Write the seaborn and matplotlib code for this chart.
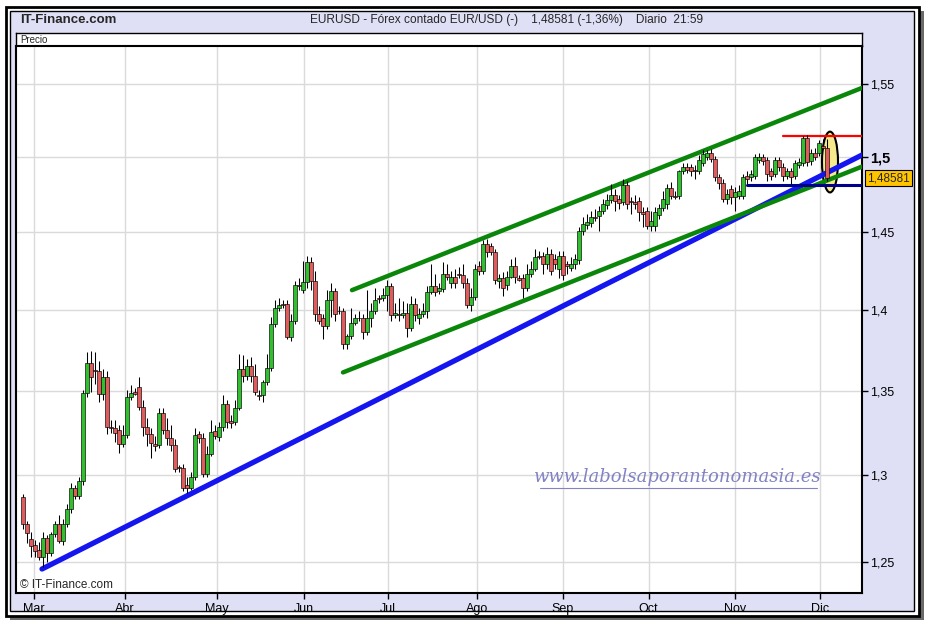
"""EURUSD daily candlestick chart, IT-Finance style, with trend channel lines."""

import matplotlib

matplotlib.use("Agg")
import matplotlib.pyplot as plt
import matplotlib.transforms as mtransforms
import numpy as np
import pandas as pd
import seaborn as sns
from matplotlib.patches import Ellipse, Rectangle
from matplotlib.ticker import FixedLocator, NullLocator

# --- daily candles (trading-day index 0..201) ---
OPEN = [
    1.2869, 1.2717, 1.2628, 1.2594, 1.2566, 1.2526, 1.2633, 1.2549, 1.2656, 1.2717,
    1.2616, 1.2717, 1.2802, 1.2920, 1.2875, 1.2965, 1.3488, 1.3670, 1.3626, 1.3620,
    1.3482, 1.3582, 1.3280, 1.3274, 1.3267, 1.3182, 1.3237, 1.3463, 1.3494, 1.3525,
    1.3402, 1.3280, 1.3243, 1.3182, 1.3176, 1.3365, 1.3267, 1.3218, 1.3176, 1.3047,
    1.3041, 1.2937, 1.2920, 1.2987, 1.3243, 1.3218, 1.3004, 1.3121, 1.3261, 1.3225,
    1.3280, 1.3420, 1.3316, 1.3310, 1.3396, 1.3632, 1.3594, 1.3651, 1.3588, 1.3476,
    1.3476, 1.3556, 1.3638, 1.3916, 1.4011, 1.4037, 1.4037, 1.3834, 1.3935, 1.4157,
    1.4126, 1.4176, 1.4310, 1.4183, 1.3973, 1.3948, 1.3903, 1.4062, 1.4119, 1.3998,
    1.3992, 1.3790, 1.3840, 1.3922, 1.3954, 1.3954, 1.3866, 1.3948, 1.3998, 1.4075,
    1.4075, 1.4094, 1.4151, 1.3967, 1.3979, 1.3967, 1.3985, 1.3891, 1.4037, 1.3954,
    1.3973, 1.3992, 1.4113, 1.4151, 1.4119, 1.4132, 1.4233, 1.4170, 1.4214, 1.4233,
    1.4227, 1.4170, 1.4030, 1.4081, 1.4284, 1.4252, 1.4424, 1.4411, 1.4373, 1.4183,
    1.4202, 1.4157, 1.4214, 1.4284, 1.4202, 1.4202, 1.4138, 1.4233, 1.4265, 1.4348,
    1.4348, 1.4297, 1.4360, 1.4329, 1.4265, 1.4348, 1.4297, 1.4271, 1.4297, 1.4322,
    1.4507, 1.4546, 1.4559, 1.4599, 1.4606, 1.4639, 1.4678, 1.4711, 1.4744, 1.4718,
    1.4698, 1.4810, 1.4705, 1.4698, 1.4705, 1.4632, 1.4639, 1.4540, 1.4540, 1.4612,
    1.4658, 1.4685, 1.4790, 1.4738, 1.4738, 1.4903, 1.4936, 1.4936, 1.4916, 1.4903,
    1.4962, 1.5002, 1.5029, 1.4989, 1.4863, 1.4824, 1.4718, 1.4784, 1.4731, 1.4738,
    1.4738, 1.4876, 1.4863, 1.4870, 1.4982, 1.5002, 1.4982, 1.4903, 1.4883, 1.4982,
    1.4936, 1.4870, 1.4903, 1.4876, 1.4949, 1.4962, 1.5132, 1.4976, 1.5029, 1.5029,
    1.5077, 1.5063,
]
HIGH = [
    1.2886, 1.2734, 1.2667, 1.2622, 1.2611, 1.2667, 1.2650, 1.2667, 1.2734, 1.2768,
    1.2745, 1.2830, 1.2953, 1.2942, 1.2987, 1.3506, 1.3739, 1.3746, 1.3739, 1.3682,
    1.3632, 1.3620, 1.3323, 1.3323, 1.3292, 1.3292, 1.3506, 1.3538, 1.3519, 1.3582,
    1.3445, 1.3335, 1.3274, 1.3231, 1.3396, 1.3396, 1.3335, 1.3292, 1.3212, 1.3059,
    1.3065, 1.2987, 1.3017, 1.3274, 1.3261, 1.3249, 1.3170, 1.3323, 1.3292, 1.3310,
    1.3476, 1.3445, 1.3353, 1.3445, 1.3727, 1.3720, 1.3695, 1.3708, 1.3664, 1.3506,
    1.3569, 1.3727, 1.3960, 1.4062, 1.4075, 1.4062, 1.4062, 1.3979, 1.4183, 1.4202,
    1.4316, 1.4348, 1.4341, 1.4252, 1.4024, 1.3979, 1.4126, 1.4170, 1.4138, 1.4024,
    1.4011, 1.3853, 1.4011, 1.3979, 1.3998, 1.3979, 1.4126, 1.4043, 1.4138, 1.4094,
    1.4138, 1.4189, 1.4170, 1.4043, 1.4075, 1.4056, 1.4043, 1.4088, 1.4075, 1.4011,
    1.4043, 1.4151, 1.4297, 1.4233, 1.4170, 1.4310, 1.4297, 1.4252, 1.4265, 1.4278,
    1.4297, 1.4202, 1.4138, 1.4297, 1.4316, 1.4449, 1.4456, 1.4430, 1.4392, 1.4233,
    1.4240, 1.4252, 1.4329, 1.4341, 1.4227, 1.4233, 1.4297, 1.4316, 1.4392, 1.4379,
    1.4373, 1.4405, 1.4392, 1.4360, 1.4379, 1.4379, 1.4316, 1.4341, 1.4360, 1.4533,
    1.4599, 1.4619, 1.4639, 1.4652, 1.4671, 1.4718, 1.4751, 1.4817, 1.4784, 1.4744,
    1.4850, 1.4837, 1.4731, 1.4744, 1.4731, 1.4665, 1.4665, 1.4639, 1.4665, 1.4685,
    1.4771, 1.4817, 1.4830, 1.4771, 1.4916, 1.4962, 1.4962, 1.4956, 1.4949, 1.5016,
    1.5050, 1.5050, 1.5057, 1.5009, 1.4883, 1.4850, 1.4784, 1.4810, 1.4797, 1.4810,
    1.4883, 1.4903, 1.4916, 1.5023, 1.5029, 1.5023, 1.5002, 1.4929, 1.5002, 1.5002,
    1.4962, 1.4929, 1.4929, 1.4982, 1.4995, 1.5146, 1.5153, 1.5057, 1.5064, 1.5119,
    1.5125, 1.5125,
]
LOW = [
    1.2684, 1.2605, 1.2526, 1.2526, 1.2509, 1.2471, 1.2498, 1.2532, 1.2639, 1.2605,
    1.2594, 1.2695, 1.2779, 1.2858, 1.2858, 1.2942, 1.3463, 1.3494, 1.3544, 1.3433,
    1.3445, 1.3243, 1.3249, 1.3194, 1.3127, 1.3163, 1.3218, 1.3445, 1.3476, 1.3384,
    1.3231, 1.3170, 1.3096, 1.3139, 1.3157, 1.3243, 1.3176, 1.3139, 1.3017, 1.3017,
    1.2903, 1.2892, 1.2908, 1.2970, 1.3188, 1.2987, 1.2987, 1.3108, 1.3212, 1.3200,
    1.3261, 1.3274, 1.3274, 1.3292, 1.3384, 1.3556, 1.3569, 1.3556, 1.3476, 1.3445,
    1.3433, 1.3538, 1.3620, 1.3897, 1.3992, 1.4011, 1.3821, 1.3809, 1.3916, 1.4126,
    1.4107, 1.4138, 1.4126, 1.3935, 1.3916, 1.3821, 1.3885, 1.3960, 1.3935, 1.3973,
    1.3758, 1.3758, 1.3821, 1.3910, 1.3935, 1.3821, 1.3847, 1.3897, 1.3979, 1.4043,
    1.4056, 1.3998, 1.3935, 1.3948, 1.3935, 1.3948, 1.3834, 1.3872, 1.3935, 1.3916,
    1.3960, 1.3948, 1.4100, 1.4088, 1.4100, 1.4113, 1.4189, 1.4138, 1.4138, 1.4202,
    1.4138, 1.4011, 1.3998, 1.4062, 1.4227, 1.4233, 1.4341, 1.4354, 1.4164, 1.4138,
    1.4088, 1.4126, 1.4202, 1.4170, 1.4183, 1.4075, 1.4119, 1.4214, 1.4252, 1.4329,
    1.4233, 1.4265, 1.4227, 1.4265, 1.4202, 1.4189, 1.4233, 1.4252, 1.4265, 1.4297,
    1.4481, 1.4520, 1.4533, 1.4573, 1.4507, 1.4619, 1.4652, 1.4691, 1.4639, 1.4652,
    1.4678, 1.4652, 1.4619, 1.4652, 1.4573, 1.4533, 1.4520, 1.4507, 1.4507, 1.4586,
    1.4639, 1.4652, 1.4718, 1.4718, 1.4718, 1.4883, 1.4896, 1.4876, 1.4850, 1.4883,
    1.4943, 1.4982, 1.4969, 1.4837, 1.4784, 1.4698, 1.4685, 1.4685, 1.4639, 1.4718,
    1.4718, 1.4817, 1.4837, 1.4850, 1.4962, 1.4949, 1.4837, 1.4843, 1.4863, 1.4903,
    1.4837, 1.4850, 1.4817, 1.4850, 1.4929, 1.4943, 1.4943, 1.4949, 1.4982, 1.5009,
    1.5057, 1.4837,
]
CLOSE = [
    1.2717, 1.2661, 1.2588, 1.2560, 1.2526, 1.2633, 1.2549, 1.2656, 1.2717, 1.2616,
    1.2717, 1.2802, 1.2920, 1.2875, 1.2965, 1.3488, 1.3670, 1.3582, 1.3620, 1.3482,
    1.3582, 1.3280, 1.3274, 1.3249, 1.3182, 1.3237, 1.3463, 1.3488, 1.3482, 1.3402,
    1.3280, 1.3243, 1.3188, 1.3170, 1.3365, 1.3267, 1.3218, 1.3176, 1.3035, 1.3041,
    1.2920, 1.2920, 1.2987, 1.3237, 1.3218, 1.3004, 1.3121, 1.3255, 1.3231, 1.3280,
    1.3420, 1.3310, 1.3304, 1.3396, 1.3632, 1.3594, 1.3651, 1.3588, 1.3494, 1.3469,
    1.3556, 1.3638, 1.3916, 1.4011, 1.4030, 1.4033, 1.3834, 1.3935, 1.4157, 1.4151,
    1.4176, 1.4310, 1.4183, 1.3973, 1.3935, 1.3903, 1.4062, 1.4119, 1.3979, 1.3992,
    1.3790, 1.3840, 1.3922, 1.3948, 1.3948, 1.3866, 1.3948, 1.3998, 1.4062, 1.4069,
    1.4094, 1.4151, 1.3967, 1.3985, 1.3967, 1.3985, 1.3891, 1.4037, 1.3967, 1.3979,
    1.3992, 1.4113, 1.4151, 1.4113, 1.4138, 1.4233, 1.4214, 1.4214, 1.4170, 1.4227,
    1.4170, 1.4030, 1.4081, 1.4265, 1.4252, 1.4424, 1.4373, 1.4373, 1.4189, 1.4202,
    1.4138, 1.4214, 1.4284, 1.4214, 1.4195, 1.4138, 1.4233, 1.4265, 1.4341, 1.4341,
    1.4297, 1.4360, 1.4252, 1.4297, 1.4348, 1.4221, 1.4284, 1.4297, 1.4329, 1.4507,
    1.4553, 1.4566, 1.4599, 1.4592, 1.4639, 1.4685, 1.4711, 1.4744, 1.4705, 1.4691,
    1.4810, 1.4685, 1.4698, 1.4685, 1.4632, 1.4619, 1.4540, 1.4573, 1.4632, 1.4658,
    1.4718, 1.4790, 1.4738, 1.4731, 1.4903, 1.4936, 1.4916, 1.4903, 1.4903, 1.4982,
    1.5023, 1.5029, 1.4989, 1.4863, 1.4824, 1.4718, 1.4751, 1.4731, 1.4764, 1.4771,
    1.4863, 1.4850, 1.4883, 1.5002, 1.5002, 1.4976, 1.4883, 1.4870, 1.4982, 1.4936,
    1.4870, 1.4903, 1.4863, 1.4962, 1.4969, 1.5132, 1.4969, 1.5029, 1.5002, 1.5098,
    1.5063, 1.48581,
]

MONTH_TICKS = [2.7, 25.5, 48.5, 70.2, 91.2, 113.5, 135.0, 156.4, 177.9, 199.2]
MONTH_LABELS = ["Mar", "Abr", "May", "Jun", "Jul", "Ago", "Sep", "Oct", "Nov", "Dic"]
PRICE_TICKS = [1.25, 1.30, 1.35, 1.40, 1.45, 1.50, 1.55]
PRICE_LABELS = ["1,25", "1,3", "1,35", "1,4", "1,45", "1,5", "1,55"]
LAST_PRICE = 1.48581

# hand-drawn study lines: (start index, end index), (start price, end price)
BLUE_TREND = ([4.75, 209.75], [1.2459, 1.5014])
GREEN_UPPER = ([82.25, 209.75], [1.4127, 1.5475])
GREEN_LOWER = ([80.0, 209.75], [1.3613, 1.4936])
RED_RESIST = ([190.0, 209.75], [1.5146, 1.5146])
NAVY_SUPPORT = ([181.0, 209.75], [1.4810, 1.4810])
ELLIPSE_CENTER = (201.75, 1.4968)
ELLIPSE_SIZE = (4.0, 0.041)

TITLE = "EURUSD - Fórex contado EUR/USD (-)    1,48581 (-1,36%)    Diario  21:59"

W, H = 926, 626
LAVENDER = "#dfe0f5"
UP_COLOR = "#2fbf2f"
DOWN_COLOR = "#e05c5c"
GRID_COLOR = "#dadada"
FONT = ["Liberation Sans", "DejaVu Sans"]


def _fig_rect(x0, y0, x1, y1, **kw):
    """Rectangle given in pixel coords (origin top-left)."""
    return Rectangle(
        (x0 / W, 1 - y1 / H), (x1 - x0) / W, (y1 - y0) / H, **kw
    )


def main() -> None:
    sns.set_theme(style="white")
    plt.rcParams["font.family"] = FONT
    plt.rcParams["axes.unicode_minus"] = False

    fig = plt.figure(figsize=(W / 100, H / 100), dpi=100, facecolor="white")

    # outer frame with drop shadow, kept behind the axes
    for rect in [
        _fig_rect(10, 11, 924, 620, facecolor="#6a6a6a", edgecolor="none"),
        _fig_rect(6, 7, 919, 616, facecolor="white", edgecolor="black", linewidth=2.0),
        _fig_rect(10, 11, 914, 611, facecolor=LAVENDER, edgecolor="black", linewidth=1.0),
    ]:
        rect.set_transform(fig.transFigure)
        rect.set_zorder(-10)
        fig.patches.append(rect)

    fig.text(20 / W, 1 - 20 / H, "IT-Finance.com", fontsize=9.5,
             fontweight="bold", va="center", ha="left")
    fig.text(507 / W, 1 - 20 / H, TITLE, fontsize=8.6, va="center", ha="center")

    # "Precio" strip above the price panel
    pax = fig.add_axes([16 / W, 1 - 46 / H, 846 / W, 13 / H])
    pax.set_facecolor("white")
    pax.set_xticks([])
    pax.set_yticks([])
    for sp in pax.spines.values():
        sp.set_color("black")
        sp.set_linewidth(1.0)
    pax.text(0.005, 0.45, "Precio", fontsize=7, va="center", ha="left",
             transform=pax.transAxes)

    ax = fig.add_axes([16 / W, 1 - 593 / H, 846 / W, 547 / H])
    ax.set_facecolor("white")
    ax.set_yscale("log")

    candles = pd.DataFrame(
        {"open": OPEN, "high": HIGH, "low": LOW, "close": CLOSE}
    )
    candles["idx"] = np.arange(len(candles))
    up = candles["close"] >= candles["open"]

    # study lines (below the candles)
    lines = [
        (BLUE_TREND, "#1515f0", 3.8),
        (GREEN_UPPER, "#0a860a", 3.2),
        (GREEN_LOWER, "#0a860a", 3.2),
        (RED_RESIST, "#ff0000", 1.6),
        (NAVY_SUPPORT, "#00008b", 2.2),
    ]
    ell = Ellipse(ELLIPSE_CENTER, ELLIPSE_SIZE[0], ELLIPSE_SIZE[1],
                  facecolor="#f6ea8c", edgecolor="black", linewidth=1.5, zorder=2)
    ax.add_patch(ell)
    for (xs, ys), color, lw in lines:
        sns.lineplot(x=xs, y=ys, ax=ax, color=color, linewidth=lw,
                     estimator=None, zorder=3, legend=False)

    ax.vlines(candles["idx"], candles["low"], candles["high"],
              color="black", linewidth=0.75, zorder=4)
    ax.bar(
        candles["idx"],
        (candles["close"] - candles["open"]).abs(),
        bottom=candles[["open", "close"]].min(axis=1),
        width=0.78,
        color=np.where(up, UP_COLOR, DOWN_COLOR),
        edgecolor="black",
        linewidth=0.45,
        zorder=5,
    )

    # axes cosmetics
    ax.set_xlim(-1.75, 209.75)
    ax.set_ylim(1.2325, 1.577)
    ax.yaxis.tick_right()
    ax.yaxis.set_major_locator(FixedLocator(PRICE_TICKS))
    ax.yaxis.set_minor_locator(NullLocator())
    ax.set_yticklabels(PRICE_LABELS)
    ax.set_xticks(MONTH_TICKS)
    ax.set_xticklabels(MONTH_LABELS)
    ax.set_xlabel("")
    ax.set_ylabel("")
    ax.tick_params(axis="y", direction="out", length=4, width=1, pad=1.5,
                   labelsize=9, colors="black", left=False, right=True)
    ax.tick_params(axis="x", direction="out", length=4, width=1, pad=3,
                   labelsize=9, colors="black", bottom=True)
    for lab in ax.get_yticklabels():
        if lab.get_text() == "1,5":
            lab.set_fontweight("bold")
            lab.set_fontsize(10.5)
    ax.grid(True, color=GRID_COLOR, linewidth=1.0)
    ax.set_axisbelow(True)
    for sp in ax.spines.values():
        sp.set_visible(True)
        sp.set_color("black")
        sp.set_linewidth(1.5)

    # last price tag
    blend = mtransforms.blended_transform_factory(ax.transAxes, ax.transData)
    ax.text(1.006, LAST_PRICE, "1,48581", transform=blend, fontsize=8.5,
            va="center", ha="left", zorder=10, clip_on=False,
            bbox=dict(boxstyle="square,pad=0.18", facecolor="#ffc400",
                      edgecolor="black", linewidth=0.8))

    # watermark and copyright
    wm_color = "#8282c4"
    ax.text(0.7825, 0.212, "www.labolsaporantonomasia.es", transform=ax.transAxes,
            fontsize=13, style="italic", family="DejaVu Serif", color=wm_color,
            ha="center", va="center", zorder=1)
    ax.plot([0.619, 0.947], [0.192, 0.192], transform=ax.transAxes,
            color=wm_color, linewidth=0.8, zorder=1)
    ax.text(0.005, 0.014, "© IT-Finance.com", transform=ax.transAxes,
            fontsize=8.5, ha="left", va="center", zorder=6)

    fig.savefig("out.png", dpi=100, facecolor="white")
    plt.close(fig)


if __name__ == "__main__":
    main()
